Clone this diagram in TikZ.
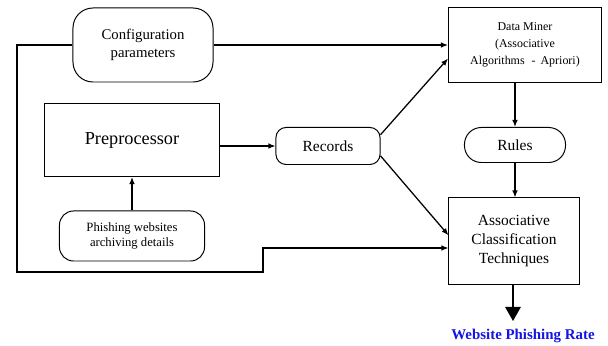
\documentclass[tikz,border=0pt]{standalone}
\usepackage{fontspec}
\setmainfont{Liberation Serif}
\usetikzlibrary{arrows.meta}
\definecolor{ratecol}{RGB}{20,20,230}
\tikzset{
  box/.style={draw, line width=0.7pt, align=center, inner sep=2pt},
  roundbox/.style={box, rounded corners=0.45cm},
  pill/.style={box, rounded corners=0.42cm},
  link/.style={line width=0.9pt, -{Latex[length=5pt,width=4pt]}},
  plain/.style={line width=0.9pt}
}
\begin{document}
\begin{tikzpicture}[x=0.025cm,y=-0.025cm]
    \useasboundingbox (0,0) rectangle (608,346);
    % nodes
    \node[roundbox, minimum width=3.5cm, minimum height=1.85cm, rounded corners=0.5cm, font=\fontsize{10.5}{13}\selectfont] (config) at (143,45) {Configuration\\parameters};
    \node[box, minimum width=4.35cm, minimum height=1.825cm, font=\fontsize{13}{15}\selectfont] (prep) at (132,140) {Preprocessor};
    \node[box, rounded corners=0.25cm, minimum width=2.6cm, minimum height=0.925cm, font=\fontsize{11}{13}\selectfont] (records) at (328,146) {Records};
    \node[box, minimum width=3.825cm, minimum height=1.85cm, font=\fontsize{8.5}{12}\selectfont] (miner) at (525,45) {Data Miner\\(Associative\\Algorithms\,\, -\, Apriori)};
    \node[pill, minimum width=2.525cm, minimum height=0.875cm, font=\fontsize{11}{13}\selectfont] (rules) at (515,145) {Rules};
    \node[box, minimum width=3.25cm, minimum height=2.15cm, font=\fontsize{11}{13.5}\selectfont] (act) at (514,241) {Associative\\Classification\\Techniques};
    \node[roundbox, minimum width=3.625cm, minimum height=1.25cm, rounded corners=0.35cm, font=\fontsize{9}{11}\selectfont] (archive) at (132,236) {Phishing websites\\archiving details};
    \node[font=\fontsize{10.6}{12}\selectfont\bfseries, text=ratecol] (rate) at (523,336) {Website Phishing Rate};
    \coordinate (c1) at (17,272);
    \coordinate (c2) at (263,248);
    \coordinate (tip) at (513,321);
    % connectors
    \draw[link] (config.east) -- (miner.west);
    \draw[link] (config.west) -| (c1) -| (c2) -- (act.west |- c2);
    \draw[link] (prep.east |- records.west) -- (records.west);
    \draw[link] (archive.north) -- (prep.south);
    \draw[link] ([yshift=8pt]records.east) -- (miner.190);
    \draw[link] ([yshift=-7pt]records.east) -- (act.175);
    \draw[link] (miner.south -| rules.north) -- (rules.north);
    \draw[link] (rules.south) -- (rules.south |- act.north);
    \draw[line width=1.2pt, -{Triangle[length=10pt,width=11pt]}] (act.south -| tip) -- (tip);
\end{tikzpicture}
\end{document}
